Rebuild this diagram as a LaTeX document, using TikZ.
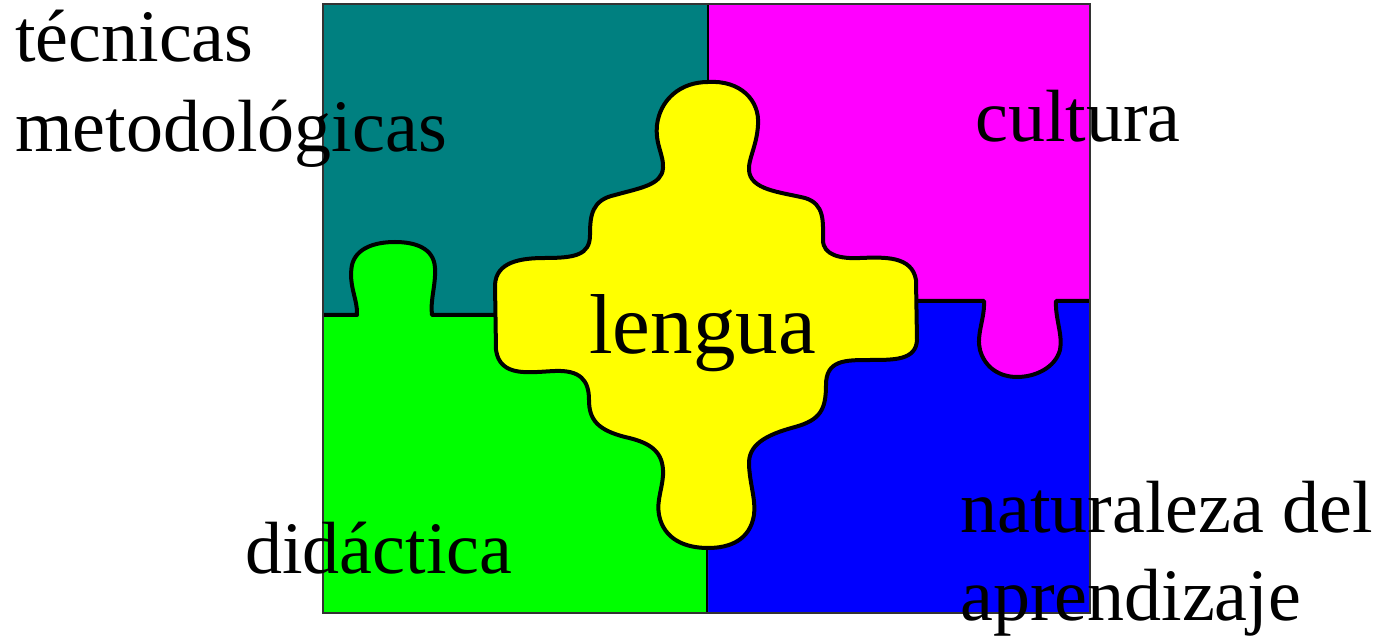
\documentclass[tikz,border=0pt]{standalone}
\usepackage{fontspec}
\setmainfont{Liberation Serif}
\definecolor{teal}{HTML}{008080}
\definecolor{mag}{HTML}{FF00FF}
\definecolor{grn}{HTML}{00FF00}
\definecolor{blu}{HTML}{0000FF}
\definecolor{yel}{HTML}{FFFF00}
\begin{document}
\begin{tikzpicture}[x=1pt,y=-1pt,
  piece/.style={draw=black,line width=4pt,line join=round},
  edge/.style={draw=black,line width=4pt,line join=round},
  divider/.style={draw=black,line width=2.5pt},
  frame/.style={draw=black!80,line width=2pt},
  lbl/.style={anchor=base west,inner sep=0pt,font=\fontsize{74}{88}\selectfont},
]
\useasboundingbox (0,0) rectangle (1379,636);
% quadrants
\fill[teal] (323,4) rectangle (708,315);
\fill[blu] (708,301) rectangle (1090,613);
\fill[grn] (323,315) -- (357,315)
  .. controls (358,300) and (348,285) .. (352,265)
  .. controls (356,248) and (375,242) .. (395,242)
  .. controls (415,242) and (434,248) .. (435,268)
  .. controls (436,285) and (430,300) .. (432,315)
  -- (708,315) -- (708,613) -- (323,613) -- cycle;
\fill[mag] (708,4) -- (1090,4) -- (1090,301) -- (1056,301)
  .. controls (1055,318) and (1063,335) .. (1060,350)
  .. controls (1055,368) and (1035,377) .. (1017,377)
  .. controls (1000,377) and (985,368) .. (980,350)
  .. controls (976,335) and (985,318) .. (984,301)
  -- (708,301) -- cycle;
% edges between pieces
\draw[edge] (323,315) -- (357,315)
  .. controls (358,300) and (348,285) .. (352,265)
  .. controls (356,248) and (375,242) .. (395,242)
  .. controls (415,242) and (434,248) .. (435,268)
  .. controls (436,285) and (430,300) .. (432,315)
  -- (500,315);
\draw[edge] (910,301) -- (984,301)
  .. controls (985,318) and (976,335) .. (980,350)
  .. controls (985,368) and (1000,377) .. (1017,377)
  .. controls (1035,377) and (1055,368) .. (1060,350)
  .. controls (1063,335) and (1055,318) .. (1056,301)
  -- (1090,301);
\draw[divider] (708,4) -- (708,90);
\draw[divider,line width=2pt] (707,540) -- (707,613);
% central piece
\path[piece, fill=yel] (708,82)
 .. controls (740,80) and (760,100) .. (758,125)
 .. controls (757,145) and (748,160) .. (749,170)
 .. controls (750,190) and (780,192) .. (805,198)
 .. controls (825,204) and (823,222) .. (823,240)
 .. controls (823,255) and (840,259) .. (860,258)
 .. controls (885,257) and (912,256) .. (916,280)
 -- (917,340)
 .. controls (916,360) and (895,360) .. (870,360)
 .. controls (845,360) and (826,360) .. (826,385)
 .. controls (826,410) and (820,420) .. (795,427)
 .. controls (765,435) and (748,445) .. (749,465)
 .. controls (750,485) and (756,500) .. (754,515)
 .. controls (750,540) and (730,548) .. (708,548)
 .. controls (686,548) and (664,540) .. (659,515)
 .. controls (656,500) and (664,485) .. (663,470)
 .. controls (662,450) and (648,442) .. (625,437)
 .. controls (598,430) and (589,420) .. (589,400)
 .. controls (589,380) and (580,370) .. (555,371)
 .. controls (530,372) and (500,378) .. (496,350)
 -- (495,285)
 .. controls (496,262) and (520,258) .. (545,258)
 .. controls (575,258) and (590,255) .. (590,235)
 .. controls (590,215) and (592,200) .. (615,195)
 .. controls (640,188) and (662,185) .. (663,168)
 .. controls (664,155) and (655,145) .. (657,125)
 .. controls (660,100) and (680,82) .. (708,82) -- cycle;
% outer frame
\draw[frame] (323,4) rectangle (1090,613);
% labels
\node[lbl] (tec1) at (15,62) {técnicas};
\node[lbl] (tec2) at (15,152) {metodológicas};
\node[lbl] (cul) at (975,142) {cultura};
\node[lbl,font=\fontsize{85}{90}\selectfont] (len) at (589,353) {lengua};
\node[lbl] (did) at (245,573) {didáctica};
\node[lbl] (nat1) at (960,532) {naturaleza del};
\node[lbl] (nat2) at (960,620) {aprendizaje};
\end{tikzpicture}
\end{document}
